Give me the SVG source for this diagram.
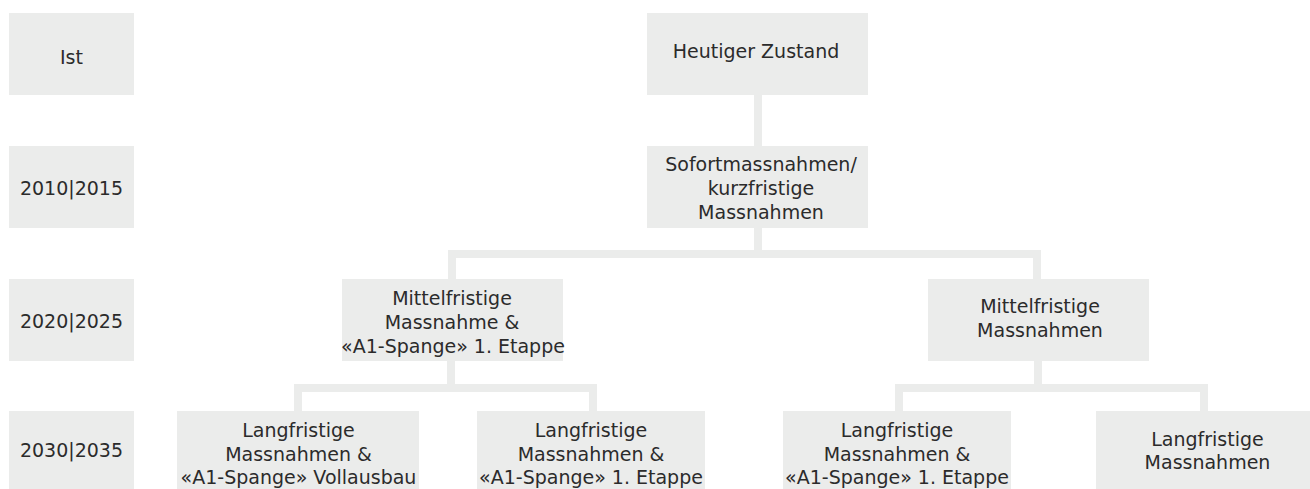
<svg xmlns="http://www.w3.org/2000/svg" width="1310" height="489" viewBox="0 0 1310 489">
<style>
.box{fill:#ebeceb}
.t{font-family:"DejaVu Sans",sans-serif;font-size:19px;fill:#2b2b2b;text-anchor:middle}
.c{fill:none;stroke:#ebeceb;stroke-width:8;stroke-linejoin:miter;stroke-linecap:butt}
</style>
<rect width="1310" height="489" fill="#ffffff"/>
<g id="connectors">
<path class="c" d="M758,95 V146"/>
<path class="c" d="M758,228 V254"/>
<path class="c" d="M452,279 V254 H1037 V279"/>
<path class="c" d="M451,361 V388"/>
<path class="c" d="M298,411 V388 H593 V411"/>
<path class="c" d="M1038,361 V388"/>
<path class="c" d="M899,411 V388 H1204 V411"/>
</g>
<g id="label-ist"><rect class="box" x="9" y="13" width="125" height="82"/><text class="t" x="71.5" y="64">Ist</text></g>
<g id="label-2010"><rect class="box" x="9" y="146" width="125" height="82"/><text class="t" x="71.5" y="195">2010|2015</text></g>
<g id="label-2020"><rect class="box" x="9" y="279" width="125" height="82"/><text class="t" x="71.5" y="328">2020|2025</text></g>
<g id="label-2030"><rect class="box" x="9" y="411" width="125" height="82"/><text class="t" x="71.5" y="457">2030|2035</text></g>
<g id="node-heute"><rect class="box" x="647" y="13" width="221" height="82"/><text class="t" x="756" y="58.3">Heutiger Zustand</text></g>
<g id="node-sofort"><rect class="box" x="647" y="146" width="221" height="82"/><text class="t"><tspan x="761" y="170.5">Sofortmassnahmen/</tspan><tspan x="761" y="194.5">kurzfristige</tspan><tspan x="761" y="218.5">Massnahmen</tspan></text></g>
<g id="node-mittel-a1"><rect class="box" x="342" y="279" width="221" height="82"/><text class="t"><tspan x="452" y="305">Mittelfristige</tspan><tspan x="452" y="329">Massnahme &amp;</tspan><tspan x="453" y="353">«A1-Spange» 1. Etappe</tspan></text></g>
<g id="node-mittel"><rect class="box" x="928" y="279" width="221" height="82"/><text class="t"><tspan x="1040" y="312.7">Mittelfristige</tspan><tspan x="1040" y="336.7">Massnahmen</tspan></text></g>
<g id="node-lang-voll"><rect class="box" x="177" y="411" width="242" height="82"/><text class="t"><tspan x="298.5" y="437">Langfristige</tspan><tspan x="298.5" y="460.5">Massnahmen &amp;</tspan><tspan x="298.5" y="484">«A1-Spange» Vollausbau</tspan></text></g>
<g id="node-lang-e1a"><rect class="box" x="477" y="411" width="228" height="82"/><text class="t"><tspan x="591" y="437">Langfristige</tspan><tspan x="591" y="460.5">Massnahmen &amp;</tspan><tspan x="591" y="484">«A1-Spange» 1. Etappe</tspan></text></g>
<g id="node-lang-e1b"><rect class="box" x="783" y="411" width="228" height="82"/><text class="t"><tspan x="897" y="437">Langfristige</tspan><tspan x="897" y="460.5">Massnahmen &amp;</tspan><tspan x="897" y="484">«A1-Spange» 1. Etappe</tspan></text></g>
<g id="node-lang"><rect class="box" x="1096" y="411" width="223" height="82"/><text class="t"><tspan x="1207.5" y="445.7">Langfristige</tspan><tspan x="1207.5" y="469.2">Massnahmen</tspan></text></g>
</svg>
